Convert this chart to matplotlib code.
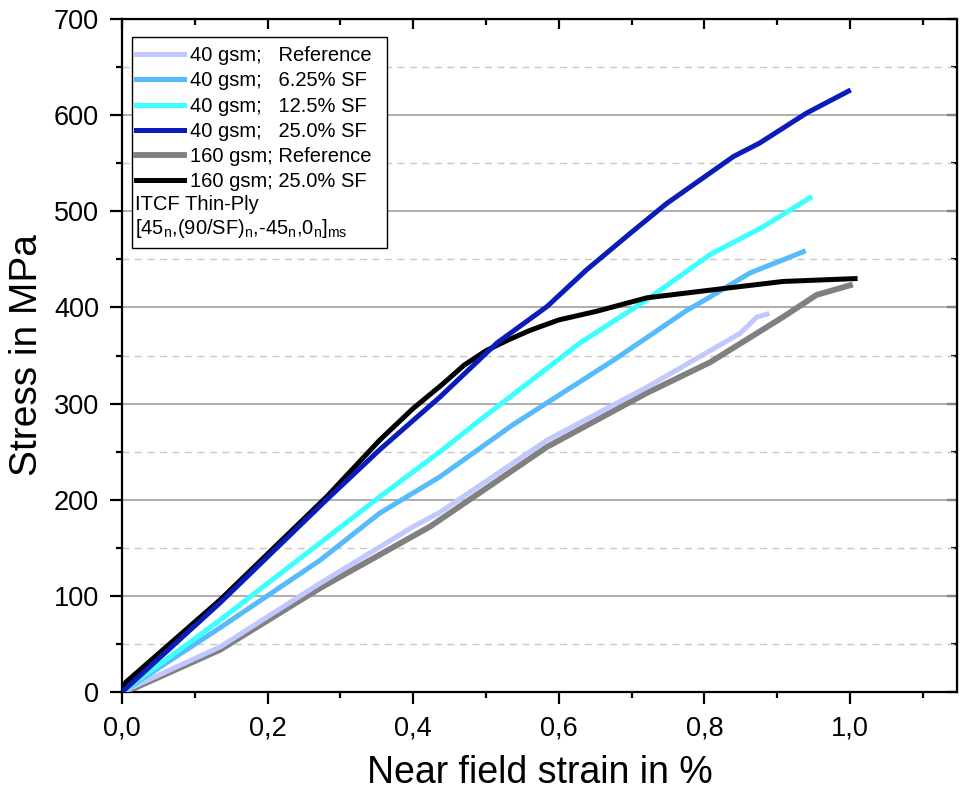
import numpy as np
import matplotlib
matplotlib.use('Agg')
import matplotlib.pyplot as plt
from matplotlib.patches import Rectangle
from matplotlib.ticker import MultipleLocator, FuncFormatter

plt.rcParams['font.family'] = ['Liberation Sans', 'DejaVu Sans']
plt.rcParams['mathtext.fontset'] = 'custom'
plt.rcParams['mathtext.rm'] = 'Liberation Sans'

# strain in %, stress in MPa
ref40_x = [0.0, 0.135, 0.272, 0.40, 0.437, 0.584, 0.721, 0.785, 0.849, 0.872, 0.886]
ref40_y = [0, 47, 113, 172, 187, 262, 317, 345, 373, 390, 393]

sf625_x = [0.0, 0.135, 0.272, 0.354, 0.437, 0.537, 0.675, 0.776, 0.808, 0.863, 0.913, 0.936]
sf625_y = [0, 67, 137, 186, 224, 278, 345, 397, 411, 436, 451, 458]

sf125_x = [0.0, 0.135, 0.272, 0.354, 0.437, 0.492, 0.629, 0.721, 0.808, 0.881, 0.945]
sf125_y = [0, 75, 155, 203, 250, 283, 363, 408, 455, 484, 514]

sf25_x = [0.0, 0.135, 0.281, 0.354, 0.437, 0.515, 0.584, 0.638, 0.698, 0.748, 0.84, 0.876, 0.94, 0.998]
sf25_y = [0, 93, 200, 252, 307, 363, 401, 439, 477, 508, 557, 571, 602, 625]

ref160_x = [0.0, 0.02, 0.135, 0.272, 0.423, 0.584, 0.721, 0.808, 0.908, 0.954, 1.0]
ref160_y = [0, 5, 44, 108, 172, 255, 311, 343, 390, 413, 423]

sf25_160_x = [0.0, 0.005, 0.135, 0.281, 0.354, 0.40, 0.44, 0.47, 0.50, 0.53, 0.56, 0.60,
              0.652, 0.721, 0.808, 0.908, 1.007]
sf25_160_y = [0, 10, 96, 203, 262, 295, 320, 340, 355, 366, 376, 387,
              396, 410, 418, 427, 430]

labels = ['40 gsm;   Reference', '40 gsm;   6.25% SF', '40 gsm;   12.5% SF',
          '40 gsm;   25.0% SF', '160 gsm; Reference', '160 gsm; 25.0% SF']
colors = ['#C0C8FF', '#55BBFA', '#3CFFFF', '#0A1CBA', '#808080', '#000000']

series = [(ref40_x, ref40_y), (sf625_x, sf625_y), (sf125_x, sf125_y),
          (sf25_x, sf25_y), (ref160_x, ref160_y), (sf25_160_x, sf25_160_y)]

fig = plt.figure(figsize=(9.6, 7.94), dpi=100)
ax = fig.add_axes([122/960, 102/794, 835/960, 673/794])

# draw order: gray under lavender, black under dark blue
order = [4, 0, 1, 2, 5, 3]
lines = {}
for i in order:
    x, y = series[i]
    lw = 4.2 if i == 4 else 3.6
    ln, = ax.plot(x, y, color=colors[i], lw=lw, label=labels[i], zorder=3)
    lines[i] = ln

ax.set_xlim(0, 1.147)
ax.set_ylim(0, 700)
ax.xaxis.set_major_locator(MultipleLocator(0.2))
ax.xaxis.set_minor_locator(MultipleLocator(0.1))
ax.yaxis.set_major_locator(MultipleLocator(100))
ax.yaxis.set_minor_locator(MultipleLocator(50))
ax.xaxis.set_major_formatter(FuncFormatter(lambda v, p: f'{v:.1f}'.replace('.', ',')))

ax.grid(axis='y', which='major', color='#a0a0a0', lw=1.2, zorder=0)
ax.grid(axis='y', which='minor', color='#c8c8c8', lw=1.0, ls=(0, (5, 4)), zorder=0)
ax.set_axisbelow(True)

for s in ax.spines.values():
    s.set_linewidth(1.6)

ax.tick_params(which='both', direction='out', width=1.6, labelsize=19.5, pad=8)
ax.tick_params(which='major', length=8.6)
ax.tick_params(which='minor', length=4.3)

# inward ticks on top and right
ax2 = ax.secondary_xaxis('top')
ax2.xaxis.set_major_locator(MultipleLocator(0.2))
ax2.xaxis.set_minor_locator(MultipleLocator(0.1))
ax2.tick_params(which='both', direction='in', width=1.6, labeltop=False)
ax2.tick_params(which='major', length=7)
ax2.tick_params(which='minor', length=4)
ay2 = ax.secondary_yaxis('right')
ay2.yaxis.set_major_locator(MultipleLocator(100))
ay2.yaxis.set_minor_locator(MultipleLocator(50))
ay2.tick_params(which='both', direction='in', width=1.6, labelright=False)
ay2.tick_params(which='major', length=7)
ay2.tick_params(which='minor', length=4)

ax.set_xlabel('Near field strain in %', fontsize=27, labelpad=10)
ax.set_ylabel('Stress in MPa', fontsize=28, labelpad=6)

# legend box
box = Rectangle((0.012, 0.660), 0.305, 0.313, transform=ax.transAxes,
                facecolor='white', edgecolor='black', lw=1.0, zorder=5)
ax.add_patch(box)
handles = [lines[i] for i in range(6)]
leg = ax.legend(handles, labels, loc='upper left', bbox_to_anchor=(0.006, 0.973),
                frameon=False, fontsize=14.5, handlelength=2.4, handletextpad=0.3,
                labelspacing=0.31, borderpad=0.45, borderaxespad=0)
leg.set_zorder(6)
ax.text(0.016, 0.725, 'ITCF Thin-Ply', transform=ax.transAxes, fontsize=14.5,
        va='center', ha='left', zorder=7)
ax.text(0.016, 0.689,
        r'[45$_\mathregular{n}$,(90/SF)$_\mathregular{n}$,-45$_\mathregular{n}$,0$_\mathregular{n}$]$_\mathregular{ms}$',
        transform=ax.transAxes, fontsize=14.5, va='center', ha='left', zorder=7)

fig.savefig('out.png', dpi=100)
